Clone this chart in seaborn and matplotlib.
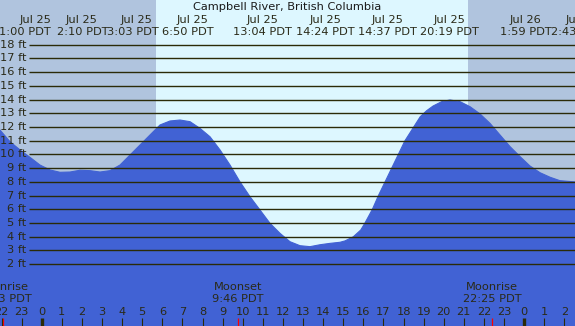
import numpy as np
import pandas as pd
import matplotlib
matplotlib.use("Agg")
import matplotlib.pyplot as plt
import matplotlib.transforms as mtransforms
import seaborn as sns

sns.set_theme(style="white")
plt.rcParams['font.family'] = ['DejaVu Sans']

# ---- data (hours since Jul 25 00:00 PDT, water level in ft) ----
hours = [-2.075, -1.577, -1.08, -0.582, -0.085, 0.413, 0.910, 1.408, 1.905,
         2.403, 2.900, 3.398, 3.896, 4.393, 4.891, 5.388, 5.886, 6.383,
         6.881, 7.378, 7.876, 8.373, 8.871, 9.368, 9.866, 10.363, 10.861,
         11.358, 11.856, 12.353, 12.851, 13.348, 13.846, 14.343, 14.841,
         15.09, 15.50, 15.87, 16.08, 16.45, 16.75, 17.08, 17.41, 17.74,
         18.07, 18.41, 18.83, 19.15, 19.47, 19.90, 20.31, 20.81, 21.31,
         21.81, 22.30, 22.80, 23.30, 23.80, 24.29, 24.79, 25.29, 25.78, 26.53]
level_ft = [11.78, 10.93, 10.33, 9.79, 9.23, 8.87, 8.70, 8.72, 8.85,
            8.82, 8.72, 8.82, 9.23, 9.96, 10.69, 11.42, 12.15, 12.44,
            12.51, 12.39, 11.9, 11.29, 10.33, 9.23, 8.0, 6.92, 5.95,
            4.98, 4.25, 3.64, 3.35, 3.28, 3.42, 3.52, 3.60,
            3.70, 4.0, 4.49, 5.0, 6.0, 7.0, 8.0, 9.0, 10.0,
            11.0, 11.78, 12.75, 13.19, 13.53, 13.85, 13.97, 13.85, 13.48,
            12.95, 12.27, 11.42, 10.57, 9.84, 9.16, 8.67, 8.34, 8.09, 8.0]

grid_ft = list(range(2, 19))
grid_labels = [f"{v} ft" for v in grid_ft]

event_dates = ["Jul 25", "Jul 25", "Jul 25", "Jul 25", "Jul 25", "Jul 25",
               "Jul 25", "Jul 25", "Jul 26", "Jul 26"]
event_times = ["1:00 PDT", "2:10 PDT", "3:03 PDT", "6:50 PDT", "13:04 PDT",
               "14:24 PDT", "14:37 PDT", "20:19 PDT", "1:59 PDT", "2:43 PDT"]
event_date_pos = [-0.33, 1.96, 4.74, 7.48, 11.0, 14.13, 17.19, 20.28, 24.09, 26.85]
event_time_pos = [-0.85, 2.02, 4.54, 7.27, 11.0, 14.1, 17.2, 20.3, 24.09, 26.6]

moon_events = ["Moonrise", "Moonset", "Moonrise"]
moon_times = ["22:03 PDT", "9:46 PDT", "22:25 PDT"]
moon_hours = [-1.95, 9.767, 22.417]

sunrise_h = 5.69
sunset_h = 21.20
hour_ticks = list(range(-2, 27))

# ---- colours ----
night_c = "#B0C4DE"
day_c = "#DDF7FF"
water_c = "#4162D4"
line_c = "#2B2B08"
text_c = "#2A2A18"

W, H = 575, 326
fig = plt.figure(figsize=(W / 100, H / 100), dpi=100)
ax = fig.add_axes([0, 0, 1, 1])
x0, x1 = -2.075, 26.53
y0, y1 = -2.503, 21.258
ax.set_xlim(x0, x1)
ax.set_ylim(y0, y1)
ax.axis("off")

ax.axvspan(x0, sunrise_h, color=night_c, lw=0, zorder=0)
ax.axvspan(sunrise_h, sunset_h, color=day_c, lw=0, zorder=0)
ax.axvspan(sunset_h, x1, color=night_c, lw=0, zorder=0)

df = pd.DataFrame({"hour": hours, "ft": level_ft})
ax.fill_between(df["hour"], df["ft"], y0 - 1, color=water_c, lw=0, zorder=1)
sns.lineplot(data=df, x="hour", y="ft", ax=ax, color=water_c, lw=0.8, zorder=2)

ax.hlines(grid_ft, -0.63, x1, color=line_c, lw=1.0, zorder=3)
for v, lab in zip(grid_ft, grid_labels):
    ax.text(-0.76, v, lab, ha="right", va="center", fontsize=8.2, color=text_c, zorder=4)

tr = mtransforms.blended_transform_factory(ax.transData, ax.transAxes)
ax.text(0.5, 1 - 7 / H, "Campbell River, British Columbia", transform=ax.transAxes,
        ha="center", va="center", fontsize=8.2, color="#1a1a1a")
for d, t, pd_, pt in zip(event_dates, event_times, event_date_pos, event_time_pos):
    ax.text(pd_, 1 - 20 / H, d, transform=tr, ha="center", va="center", fontsize=8.2, color=text_c)
    ax.text(pt, 1 - 32 / H, t, transform=tr, ha="center", va="center", fontsize=8.2, color=text_c)

for ev, t, h in zip(moon_events, moon_times, moon_hours):
    ax.text(h, 1 - 287 / H, ev, transform=tr, ha="center", va="center", fontsize=8.2, color=text_c)
    ax.text(h, 1 - 299 / H, t, transform=tr, ha="center", va="center", fontsize=8.2, color=text_c)
    ax.vlines(h, 0, 8.5 / H, transform=tr, color="red", lw=0.9, zorder=5)

for h in hour_ticks:
    ax.text(h, 1 - 312 / H, str(h % 24), transform=tr, ha="center", va="center",
            fontsize=8.2, color=text_c)
    ax.vlines(h, 0, 8.5 / H, transform=tr, color=line_c,
              lw=2.4 if h % 24 == 0 else 0.8, zorder=5)

fig.savefig("out.png", dpi=100)
